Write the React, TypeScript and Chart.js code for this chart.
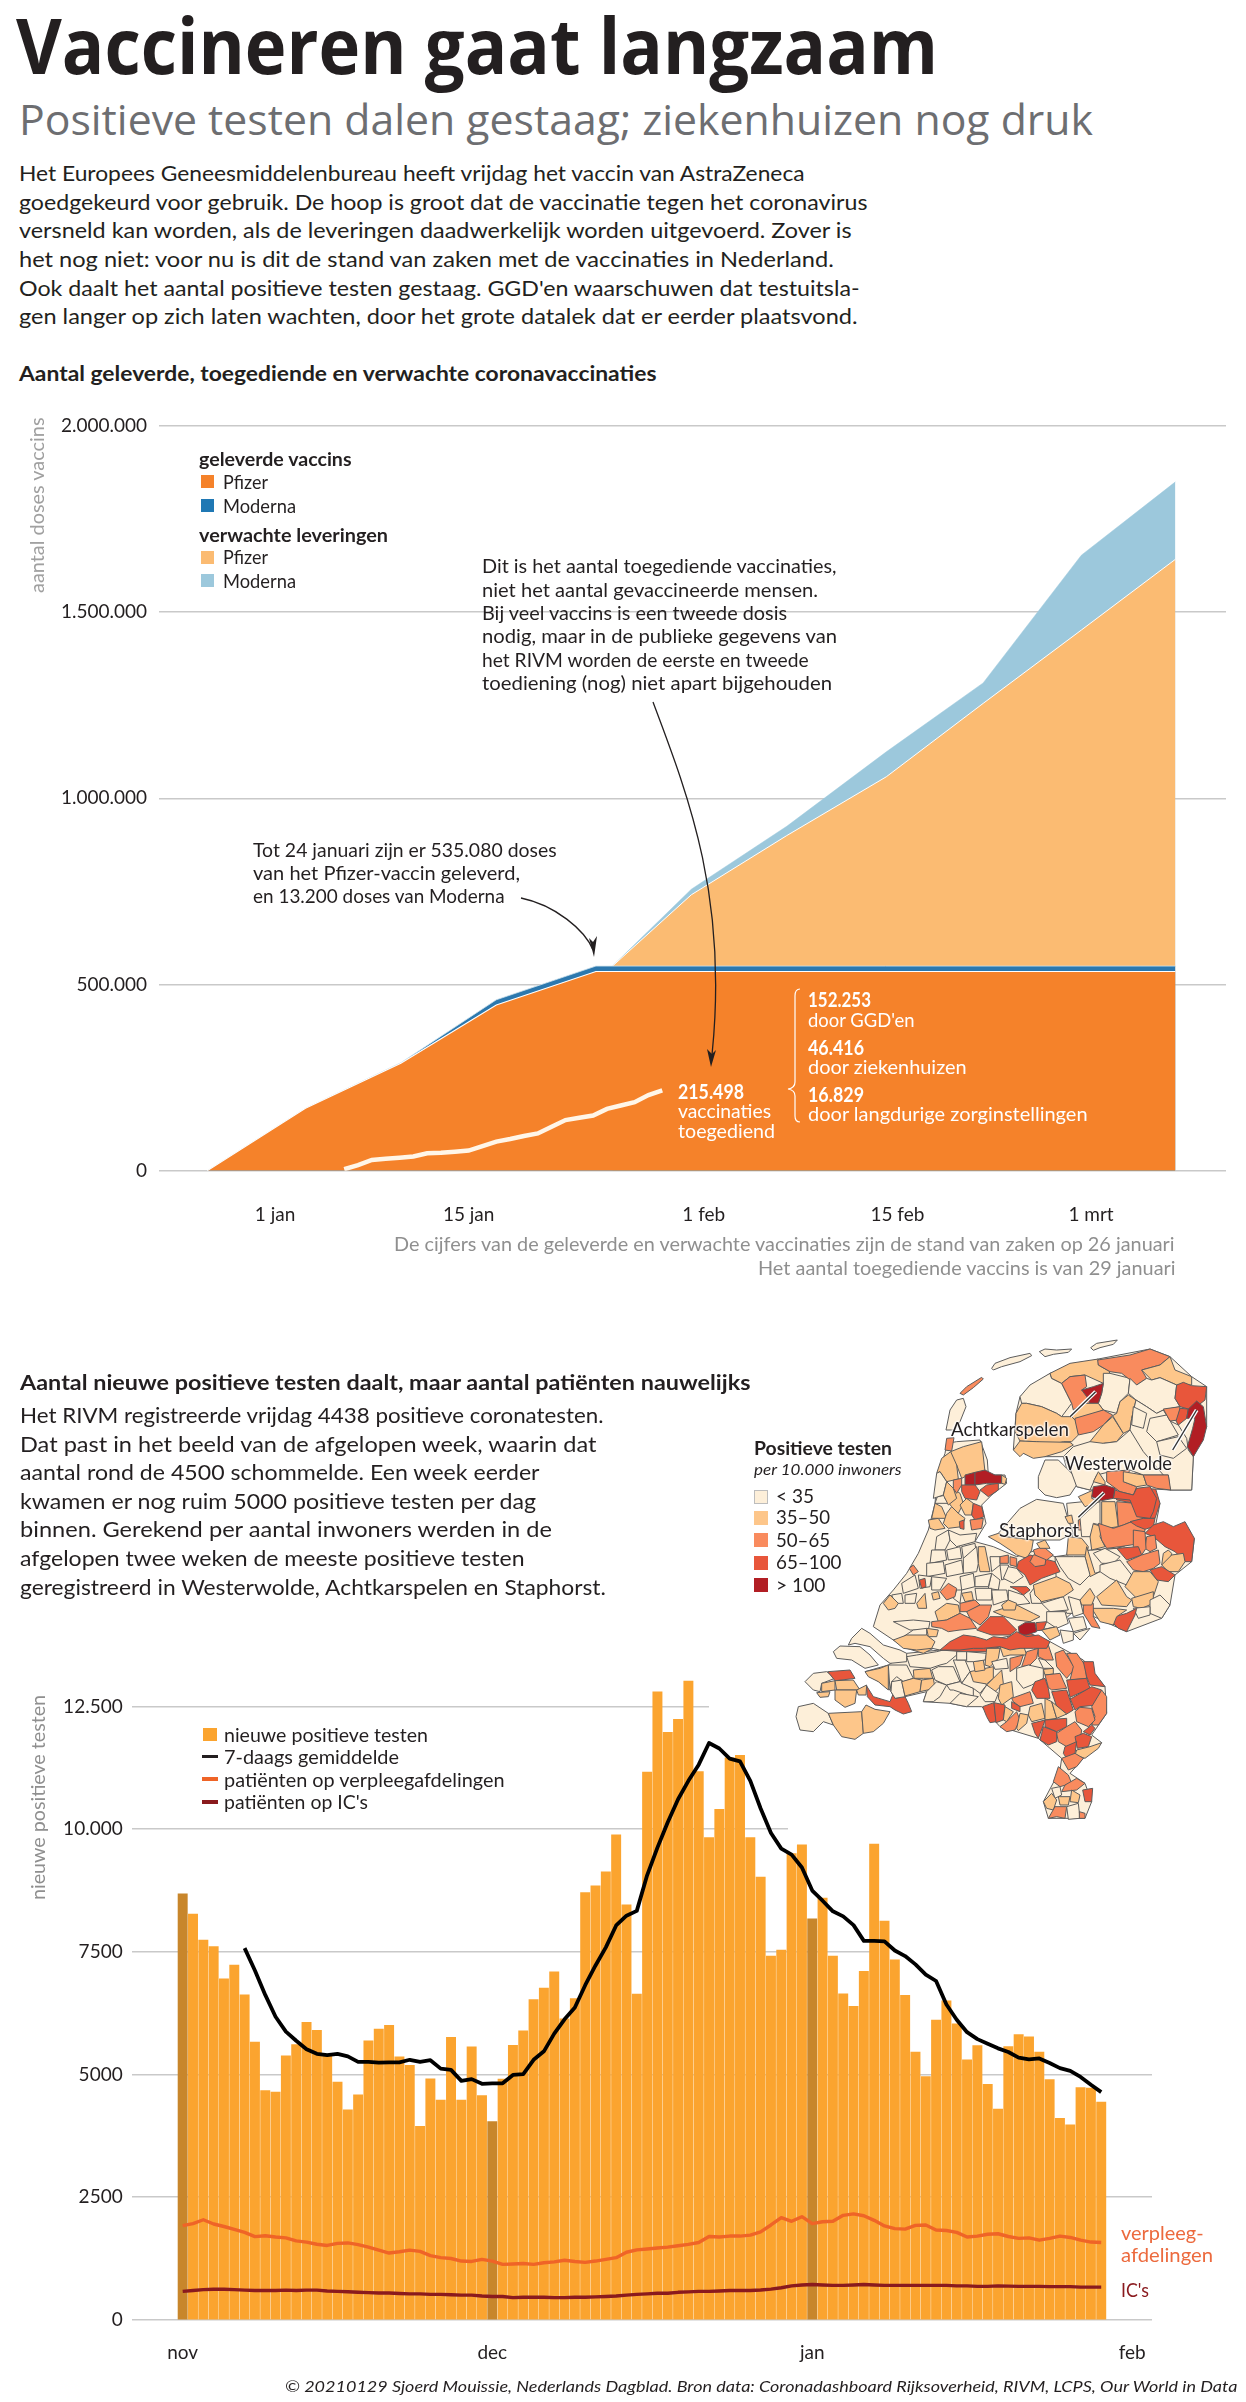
import React, { useEffect, useRef } from "react";
import { Chart, registerables } from "chart.js";
Chart.register(...registerables);

// ---------- chart 1 data ----------
const vaccDoseTickValues = [0, 500000, 1000000, 1500000, 2000000];
const vaccDoseTickLabels = ["0", "500.000", "1.000.000", "1.500.000", "2.000.000"];
const vaccDayTickValues = [0, 14, 31, 45, 59];
const vaccDayTickLabels = ["1 jan", "15 jan", "1 feb", "15 feb", "1 mrt"];
const deliveredDays = [-4.9, 2.2, 9.1, 16, 23.2, 65.1];
const deliveredPfizer = [0, 167600, 288500, 445000, 535080, 535080];
const deliveredTotal = [0, 167600, 290000, 459000, 549500, 549500];
const expectedDays = [24.4, 30.1, 37, 44.2, 51.2, 58.3, 65.1];
const expectedPfizerTop = [549500, 741000, 900000, 1058000, 1255000, 1452000, 1642000];
const expectedModernaTop = [549500, 756000, 925000, 1125000, 1310000, 1653000, 1850000];
const givenStartDay = 5;
const givenDoses = [4000, 15000, 29000, 32000, 35000, 38000, 47000, 48000, 51000, 54000, 66000, 78000, 85000, 93000, 100000, 118000, 136000, 142000, 148000, 166000, 175000, 184000, 203000, 215498];

// ---------- chart 2 data ----------
const posTickValues = [0, 2500, 5000, 7500, 10000, 12500];
const posTickLabels = ["0", "2500", "5000", "7500", "10.000", "12.500"];
const monthTickValues = [0, 30, 61, 92];
const monthTickLabels = ["nov", "dec", "jan", "feb"];
const firstOfMonth = [0, 30, 61];
const positiveTests = [8683, 8271, 7739, 7610, 6950, 7233, 6624, 5663, 4676, 4642, 5380, 5611, 6066, 5903, 5405, 4848, 4281, 4590, 5689, 5929, 6006, 5363, 5191, 3947, 4916, 4479, 5757, 4479, 5568, 4573, 4041, 4908, 5594, 5894, 6529, 6761, 7096, 6135, 6547, 8709, 8846, 9129, 9884, 8460, 6641, 11163, 12800, 11973, 12236, 13016, 11174, 9830, 10403, 11456, 11503, 9830, 9022, 7415, 7537, 9501, 9680, 8176, 8599, 7415, 6644, 6391, 7105, 9699, 8129, 7340, 6616, 5460, 4962, 6109, 6503, 6034, 5300, 5592, 4802, 4295, 5573, 5817, 5770, 5460, 4896, 4107, 3975, 4737, 4727, 4438];
const avgStartIndex = 6;
const sevenDayAvg = [7576, 7121, 6624, 6178, 5877, 5689, 5517, 5423, 5397, 5423, 5371, 5260, 5260, 5242, 5251, 5251, 5302, 5260, 5294, 5122, 5097, 4873, 4908, 4813, 4822, 4822, 4993, 5011, 5302, 5474, 5834, 6126, 6366, 6821, 7224, 7593, 8039, 8237, 8336, 9060, 9624, 10140, 10610, 10986, 11315, 11757, 11644, 11437, 11381, 10986, 10422, 9924, 9605, 9483, 9219, 8749, 8543, 8327, 8223, 8045, 7725, 7725, 7716, 7528, 7415, 7246, 7039, 6907, 6428, 6118, 5864, 5723, 5629, 5535, 5460, 5347, 5310, 5329, 5235, 5131, 5075, 4953, 4793, 4643];
const wardPatients = [1922, 1965, 2042, 1956, 1905, 1845, 1785, 1699, 1716, 1690, 1673, 1613, 1587, 1544, 1519, 1562, 1570, 1536, 1484, 1424, 1364, 1390, 1424, 1399, 1313, 1270, 1253, 1201, 1193, 1236, 1201, 1133, 1141, 1150, 1133, 1167, 1184, 1218, 1193, 1175, 1201, 1236, 1270, 1381, 1429, 1447, 1466, 1485, 1513, 1541, 1579, 1701, 1692, 1710, 1710, 1729, 1795, 1936, 2086, 2011, 2105, 1964, 2002, 2011, 2133, 2161, 2124, 2030, 1917, 1861, 1851, 1927, 1936, 1833, 1823, 1786, 1692, 1710, 1748, 1757, 1701, 1663, 1673, 1626, 1663, 1710, 1682, 1626, 1588, 1579];
const icPatients = [583, 601, 618, 626, 626, 618, 609, 601, 601, 601, 609, 601, 609, 609, 592, 583, 575, 566, 558, 549, 549, 541, 532, 532, 523, 523, 515, 506, 506, 489, 480, 480, 455, 463, 463, 463, 455, 455, 463, 463, 472, 480, 489, 506, 523, 532, 545, 545, 564, 573, 583, 583, 592, 601, 601, 601, 611, 630, 658, 695, 714, 724, 714, 705, 705, 714, 724, 714, 705, 705, 705, 705, 705, 705, 705, 695, 695, 686, 686, 695, 690, 686, 686, 686, 680, 680, 680, 670, 670, 670];
const gridEndPx = [[12500, 709], [10000, 788], [7500, 872]];

const mapClassColors = ["#FDEFD9", "#FDC68A", "#F98B5E", "#E8563B", "#B21E24"];
const southOrigin = [790, 1610];
const southRegions = [
  [0,350,130,450,120,520,120,780,95,880,150,945,230,950,310,905,375,935,398,880,445,840,490,885,520,905,575,885,625,775,625,760,575,810,480,815,445,745,385,630,350,575,290,530,290,480,280,400,275,410,245,345,260,315,265,300,240,225,185,295,165],
  [0,185,85,215,55,240,70,280,105,330,120,350,130,350,155,300,160,280,145,240,110,195,100,175,105],
  [0,130,125,150,108,210,110,240,135,265,165,225,175,185,150,140,145],
  [1,310,90,360,70,430,78,430,115,400,130,350,115],
  [0,435,78,490,72,470,100,445,120,435,115],
  [0,350,140,380,135,440,125,500,110,500,135,470,160,450,165,420,175,360,170],
  [3,450,120,490,90,530,75,565,90,590,100,640,100,680,80,720,70,780,95,740,110,670,115,630,110,590,125,520,125],
  [0,45,215,70,190,110,185,135,205,95,220,90,245,70,240],
  [3,113,185,180,180,195,205,155,210,135,212],
  [1,95,220,135,212,135,240,95,245],
  [1,135,212,190,210,210,240,140,240],
  [1,135,240,200,240,195,280,165,292,135,270],
  [1,80,248,120,245,115,260,90,262],
  [1,200,240,230,225,228,255,205,255],
  [3,230,228,250,260,300,275,310,250,315,265,345,260,355,280,365,305,340,312,315,300,300,290,255,285,232,260],
  [0,18,320,25,290,70,280,115,310,130,345,100,335,70,365,30,360],
  [1,115,310,215,305,220,370,195,388,155,380,130,345],
  [1,215,305,228,285,255,298,300,305,280,340,250,365,220,370],
  [1,225,185,270,175,295,165,295,240,265,215,235,200],
  [0,295,165,350,165,370,205,340,215,320,200,305,215,300,240],
  [0,305,215,335,210,345,260,315,265,303,245],
  [1,335,215,370,205,395,210,390,245,345,258],
  [1,370,180,420,175,428,205,400,205,372,205],
  [1,395,210,430,205,435,235,390,245],
  [0,400,275,410,245,440,215,470,225,450,260,430,275],
  [0,425,180,445,170,490,170,510,215,470,225,435,210],
  [0,470,225,510,215,550,235,550,260,490,240,480,240],
  [0,480,280,510,250,565,260,530,290,505,285],
  [0,490,150,525,150,540,185,515,220,505,190],
  [0,515,220,540,185,555,190,590,225,570,250,550,235],
  [1,540,185,610,170,610,205,590,222,550,215],
  [1,550,155,580,150,585,180,555,185],
  [0,500,125,530,125,530,150,500,150],
  [0,530,125,590,130,585,150,550,155,530,155],
  [1,590,115,630,115,625,145,600,170,585,165],
  [0,605,155,650,145,655,175,615,178],
  [1,590,225,610,205,635,180,640,220,615,245,600,260],
  [0,570,255,590,225,625,250,615,275,585,275],
  [1,630,225,665,215,670,260,635,285,625,265],
  [1,630,110,700,105,710,135,660,135,640,140],
  [2,660,145,700,135,690,165,660,185],
  [2,710,125,745,115,740,145,720,165,695,170],
  [2,745,110,775,105,790,150,765,150,745,140],
  [0,745,145,765,150,790,175,760,175],
  [0,680,175,715,165,760,175,760,205,725,225,700,235,680,210],
  [1,760,178,790,175,790,192,765,195],
  [3,735,215,765,205,775,235,780,265,740,265,725,240],
  [2,765,195,810,190,830,235,785,240,775,232],
  [2,795,130,820,120,855,175,830,205,800,170],
  [2,830,130,860,130,885,165,890,205,840,210,850,170],
  [3,880,155,910,155,915,190,945,230,900,225,890,200],
  [3,830,210,890,205,900,235,840,262],
  [3,845,265,905,230,935,240,925,285,870,290,855,300,840,265],
  [3,785,245,830,240,850,300,830,312,800,290],
  [2,665,265,720,245,730,280,690,290,670,275],
  [3,665,275,690,290,690,305,665,295],
  [2,905,290,935,240,950,260,950,310,925,345,905,345,915,320],
  [2,855,305,870,292,905,295,915,330,895,350,860,335],
  [1,720,290,755,280,765,325,725,335,715,315],
  [1,765,265,785,275,800,325,765,330],
  [1,785,275,830,312,800,325],
  [3,578,290,612,278,618,335,600,338,590,320],
  [3,612,278,645,285,640,330,618,338],
  [1,645,290,670,305,650,335,640,330],
  [2,630,350,650,335,680,305,690,330,675,360,650,365],
  [1,690,310,715,315,710,340,685,362,680,355],
  [3,725,340,765,330,760,345,745,385,735,370],
  [3,760,350,800,365,800,395,775,405,750,390,755,370],
  [3,765,330,830,325,830,350,800,365,765,350],
  [2,830,350,855,335,875,360,870,395,830,410,805,395,800,370],
  [3,880,365,905,345,915,355,900,375],
  [3,855,380,880,370,905,380,895,410,862,415],
  [3,825,410,860,395,855,430,830,445,820,430],
  [1,860,420,900,410,935,398,925,415,885,445,855,435],
  [2,815,445,855,430,880,445,860,470,835,480],
  [2,805,470,835,495,845,520,810,530,790,515],
  [2,825,525,860,505,885,520,860,540,815,545],
  [0,785,535,810,530,815,555,795,565],
  [1,760,575,785,550,800,570,790,600,770,595],
  [1,805,560,840,560,835,585,810,585],
  [1,845,540,870,555,865,578,840,575],
  [3,878,540,908,535,905,575,885,575],
  [2,775,625,795,590,830,590,825,625,800,620],
  [0,830,590,865,580,870,625,835,628],
  [2,868,605,885,610,885,625,868,625],
];
const midOrigin = [860, 1440];
const midRegions = [
  [0,232,105,255,40,260,10,290,5,360,0,382,60,385,105,435,105,440,130,395,165,365,195,378,250,345,305,400,320,470,350,530,330,585,350,720,400,680,520,640,515,590,560,240,630,100,600,40,560,60,495,100,450,140,400,175,340,205,270,225,190],
  [0,585,350,620,345,690,330,770,325,880,290,1003,295,995,365,945,405,930,495,905,535,800,575,680,520,620,520,590,440],
  [0,620,190,720,180,830,145,900,190,880,290,770,325,690,330,620,345,640,280,625,240],
  [0,230,290,265,270,270,300,255,330,225,330],
  [0,215,330,255,330,260,360,210,370],
  [0,260,330,300,320,305,355,265,360],
  [0,305,320,345,310,350,350,310,355],
  [0,350,320,355,370,350,395,310,400,310,355],
  [0,200,370,250,365,255,400,200,410],
  [0,255,375,305,360,310,400,260,410],
  [0,390,350,420,350,420,375,395,395],
  [0,420,375,445,375,450,410,425,420],
  [0,395,400,420,420,415,450,385,445],
  [0,445,380,470,385,490,410,460,430,430,415],
  [0,175,405,215,410,210,440,180,445],
  [0,215,410,260,415,240,450,215,450],
  [0,300,410,340,400,345,440,305,450],
  [0,345,410,395,400,385,440,345,440],
  [0,125,430,165,405,175,445,130,460],
  [0,95,465,125,460,130,490,105,490],
  [0,135,465,170,460,165,490,135,490],
  [0,290,450,305,450,300,490,280,475],
  [0,345,445,395,445,395,480,350,480],
  [0,395,450,440,450,445,480,400,495],
  [0,445,450,490,465,510,490,470,495,445,480],
  [0,510,460,525,440,545,490,515,490],
  [0,545,490,610,470,625,510,570,515],
  [0,625,470,660,480,670,520,640,530],
  [0,560,515,615,515,625,550,590,565,560,545],
  [0,625,535,670,530,680,565,640,575],
  [0,600,570,640,575,640,600,610,610],
  [0,640,580,690,565,660,600],
  [0,100,545,160,540,210,545,205,570,150,570],
  [0,160,570,200,565,200,590,130,590],
  [0,232,170,260,165,265,190,225,190],
  [1,205,240,235,235,255,265,225,270,210,265],
  [1,225,190,245,200,260,235,235,235,215,235],
  [1,260,220,275,200,295,220,315,235,305,260,265,265,250,250],
  [1,270,140,300,160,310,190,295,220,275,200,255,175],
  [1,300,195,320,175,340,190,335,225,315,225],
  [3,340,190,365,200,372,230,345,240,335,225],
  [2,330,240,370,235,365,265,335,270],
  [3,298,245,312,240,312,268,300,265],
  [2,148,385,160,375,175,395,160,405],
  [3,178,420,195,415,198,440,185,445],
  [1,70,490,90,465,115,490,105,505,85,510],
  [1,170,490,195,460,200,505,175,505],
  [2,240,455,265,430,290,445,285,470,260,480],
  [1,215,460,235,455,240,475,220,480],
  [1,305,460,335,455,340,480,315,485],
  [1,225,515,260,490,295,495,300,520,260,540,235,545],
  [2,300,490,345,480,360,495,325,515,300,515],
  [2,320,515,360,495,395,495,385,530,360,555,330,535],
  [2,215,545,260,540,300,520,330,535,350,565,300,570,265,575,245,565,215,560],
  [3,350,570,390,530,430,530,470,570,450,585,395,585],
  [1,400,515,430,505,470,495,520,520,540,530,510,545,470,540,435,530],
  [1,425,495,445,480,470,490,465,510,430,510],
  [4,475,560,495,548,525,548,530,575,500,585,478,585],
  [3,528,548,560,545,550,570,530,572],
  [1,545,570,590,560,600,585,570,600],
  [3,240,630,270,605,310,585,345,590,380,600,400,590,440,595,470,575,500,590,535,585,570,605,560,625,520,625,480,625,450,630,420,620,370,625,340,625,300,630],
  [1,100,600,140,585,200,585,225,605,215,625,170,630,130,625],
  [1,200,565,235,570,230,590,205,590],
  [1,385,290,415,280,440,290,520,300,515,330,500,355,470,345,450,330,420,310],
  [0,415,280,480,205,530,178,610,190,625,240,640,280,600,300,520,300,440,290],
  [1,615,230,635,225,640,250,625,250],
  [2,655,240,670,235,670,270,655,270],
  [1,620,345,625,290,665,295,685,320,680,345],
  [1,695,250,725,260,720,290,735,320,695,330,690,290],
  [0,660,235,720,180,720,255,700,250,690,290,665,290],
  [1,725,185,765,185,775,260,740,265,725,255],
  [2,770,185,825,190,855,235,815,245,790,255,775,260],
  [3,830,145,885,140,900,190,885,235,855,235,825,190,770,180,765,165],
  [2,715,250,760,265,790,255,815,245,850,250,855,270,845,310,780,320,740,325,725,300],
  [3,810,245,850,235,885,235,880,260,855,268,830,258],
  [3,880,255,910,245,940,260,975,245,1003,295,995,365,975,365,945,335,915,320,880,290,855,280],
  [2,860,290,885,285,890,325,870,335,855,325],
  [2,820,270,855,275,858,325,845,345,820,320],
  [3,770,325,835,320,845,345,800,360],
  [2,800,365,845,345,895,330,900,370,880,385,850,395,820,390],
  [1,910,340,925,330,935,340,925,385,905,375],
  [1,905,375,935,345,970,340,975,365,955,395,925,395],
  [3,870,390,905,380,945,405,925,425,890,420],
  [0,700,340,735,325,780,350,760,370,725,370],
  [0,720,375,780,360,815,405,800,435,750,415,720,395],
  [1,680,320,705,400,720,395,690,410,675,350],
  [0,585,350,640,350,675,350,690,405,660,435,625,415,600,380],
  [1,820,395,870,395,895,425,880,470,830,475,795,440],
  [1,815,475,880,455,880,490,845,505,820,500],
  [0,870,480,900,465,930,495,905,535,870,520],
  [0,820,505,870,500,870,525,835,535],
  [3,765,530,800,520,830,505,825,525,800,575,775,565,760,550],
  [1,695,505,760,505,800,510,770,530,760,555,720,545],
  [1,710,470,770,420,800,470,815,480,800,500,725,495],
  [2,670,495,700,490,700,530,720,565,695,560,670,520],
  [1,660,480,690,445,705,470,695,495,665,495],
  [1,520,435,590,410,630,430,640,450,610,470,545,485,525,465],
  [3,475,365,510,345,585,365,600,395,545,415,510,435,495,405,470,385],
  [2,510,365,520,345,560,340,555,375,525,380],
  [2,520,330,550,320,580,345,560,360,525,345],
  [1,530,310,555,300,570,325,540,325],
  [2,420,350,445,345,445,370,420,370],
  [2,450,350,470,355,470,380,450,375],
  [1,355,320,375,320,390,395,360,395,355,370],
  [3,450,440,500,440,510,450,490,465,470,450],
  [0,265,270,300,285,350,280,345,305,290,320,270,300],
];
const northOrigin = [930, 1335];
const northRegions = [
  [0,270,185,360,115,505,72,660,42,720,65,785,125,830,155,830,275,790,365,785,465,720,465,640,460,480,465,440,455,410,400,400,365,345,365,280,355,250,345,258,235],
  [0,48,285,60,225,80,195,100,190,108,215,90,260,75,285],
  [2,90,175,110,155,155,127,160,132,130,158,100,180],
  [0,185,100,195,85,240,68,300,55,305,62,270,80,215,95,190,105],
  [0,328,50,345,42,380,45,425,42,415,52,370,58,345,65],
  [0,482,38,500,25,562,15,550,28,510,38,490,46],
  [0,270,185,300,150,360,115,365,130,395,145,410,175,425,205,395,245,380,235,335,215,290,205,275,205],
  [1,360,115,420,85,505,72,505,90,540,110,520,145,465,120,420,125,395,145,365,130],
  [2,395,145,420,125,465,120,470,155,455,165,495,175,490,205,460,205,430,225,425,205,410,175],
  [0,520,115,540,115,600,130,595,175,570,200,560,235,520,225,505,205,515,175,520,145],
  [4,455,165,490,155,520,145,515,175,505,205,480,205,470,185],
  [1,460,205,505,205,520,225,475,245,435,255,425,245],
  [2,435,250,520,225,548,240,520,270,490,290,445,300,435,270],
  [1,258,235,275,205,290,205,335,215,380,235,395,245,425,245,435,255,445,300,425,320,400,320,360,330,320,320,270,318,255,290],
  [1,250,345,270,318,320,320,420,322,430,330,395,350,345,365,310,370,280,355,270,365],
  [1,480,320,520,270,548,245,580,295,560,320,520,325,490,335],
  [1,560,235,570,200,595,180,618,195,605,250,600,285,580,295,548,242],
  [2,503,75,600,60,660,42,720,65,690,90,635,105,650,130,620,150,575,115,540,110,505,90],
  [1,635,105,690,90,720,65,735,105,785,125,785,150,740,150,690,128,665,135],
  [0,600,130,620,150,650,130,665,135,690,128,740,150,735,190,750,215,700,225,680,235,650,215,618,195,595,175],
  [0,600,285,605,250,618,195,650,215,680,235,700,225,720,258,745,270,770,310,775,345,790,365,785,465,720,465,715,420,640,420,600,405,560,405,580,330],
  [0,610,215,650,235,640,280,605,270],
  [0,660,250,710,240,745,300,680,320,650,290],
  [0,680,320,745,305,770,340,730,370,690,360],
  [3,740,150,760,142,785,152,830,155,825,195,800,215,775,222,750,215,735,190],
  [2,700,222,750,215,745,255,720,258],
  [3,750,220,775,222,770,250,745,270,738,258],
  [4,775,222,800,198,820,215,830,275,820,315,790,365,772,335,788,280,795,250,770,250],
  [0,325,425,345,375,385,375,410,400,430,420,440,450,420,480,380,488,345,480,325,460],
  [0,430,335,480,320,520,325,560,320,600,285,640,350,700,420,640,420,600,405,540,410,500,420,480,465,440,455,420,400,400,365],
  [2,530,410,600,405,580,440,620,455,610,480,570,470,530,440],
  [1,580,410,640,420,650,450,620,455,580,440],
  [2,640,420,715,420,722,465,680,460,650,450],
  [1,490,440,505,410,525,440,525,450],
  [1,445,485,490,465,485,490,510,500,465,515],
  [3,555,465,570,470,610,480,620,460,660,455,680,490,670,530,660,550,620,545,600,495,550,490],
  [4,490,455,525,450,555,460,550,490,515,497,485,485],
  [2,45,345,50,310,72,308,65,348],
  [1,62,350,100,335,155,320,165,410,115,420,95,430,80,390,60,370],
  [1,20,415,35,370,62,350,80,390,85,432,50,440,30,410],
  [0,20,415,30,410,50,440,40,480,10,490],
  [1,50,440,70,460,80,490,55,510,40,480],
  [2,70,435,95,430,95,450,80,475,70,460],
  [4,105,420,135,412,135,450,105,450],
  [4,135,412,165,405,195,420,215,420,215,445,170,445,135,450],
  [1,215,420,230,430,225,448,215,445],
  [3,95,450,135,450,150,470,140,495,105,490,95,470],
  [3,150,465,170,450,205,445,205,465,175,485],
];
const mapLeaders = [
  [northOrigin, [420, 245, 497, 170]],
  [northOrigin, [728, 345, 800, 225]],
  [midOrigin, [655, 232, 732, 158]],
];

// ---------- texts ----------
const bodyLines = [
  ["Het Europees Geneesmiddelenbureau heeft vrijdag het vaccin van AstraZeneca", 788, 173],
  ["goedgekeurd voor gebruik. De hoop is groot dat de vaccinatie tegen het coronavirus", 850, 202],
  ["versneld kan worden, als de leveringen daadwerkelijk worden uitgevoerd. Zover is", 834, 230],
  ["het nog niet: voor nu is dit de stand van zaken met de vaccinaties in Nederland.", 817, 259],
  ["Ook daalt het aantal positieve testen gestaag. GGD'en waarschuwen dat testuitsla-", 841, 288],
  ["gen langer op zich laten wachten, door het grote datalek dat er eerder plaatsvond.", 841, 316],
];
const noteDelivered = [
  ["Tot 24 januari zijn er 535.080 doses", 304, 849],
  ["van het Pfizer-vaccin geleverd,", 267, 872],
  ["en 13.200 doses van Moderna", 252, 895],
];
const noteGiven = [
  ["Dit is het aantal toegediende vaccinaties,", 355, 565],
  ["niet het aantal gevaccineerde mensen.", 336, 589],
  ["Bij veel vaccins is een tweede dosis", 306, 612],
  ["nodig, maar in de publieke gegevens van", 356, 635],
  ["het RIVM worden de eerste en tweede", 327, 659],
  ["toediening (nog) niet apart bijgehouden", 350, 682],
];
const para2 = [
  ["Het RIVM registreerde vrijdag 4438 positieve coronatesten.", 584, 1415],
  ["Dat past in het beeld van de afgelopen week, waarin dat", 578, 1443.7],
  ["aantal rond de 4500 schommelde. Een week eerder", 520, 1472.3],
  ["kwamen er nog ruim 5000 positieve testen per dag", 517, 1501],
  ["binnen. Gerekend per aantal inwoners werden in de", 533, 1529.3],
  ["afgelopen twee weken de meeste positieve testen", 505, 1558],
  ["geregistreerd in Westerwolde, Achtkarspelen en Staphorst.", 587, 1586.7],
];
const mapLegend = [
  ["< 35", 38, 1496, 1490],
  ["35–50", 54, 1517, 1511],
  ["50–65", 54, 1540, 1533],
  ["65–100", 65.5, 1562, 1556],
  ["> 100", 49.5, 1585, 1578],
];

const LATO = "Lato, sans-serif";
const OPEN = "'Open Sans', sans-serif";
const measureCtx = typeof document !== "undefined" ? document.createElement("canvas").getContext("2d") : null;

function T({ x, y, w, s = 20, b = false, i = false, c = "#231f20", f = LATO, rot = false, halo = false, children }: any) {
  const weight = b ? 700 : 400;
  const style = i ? "italic" : "normal";
  let k = 1;
  if (measureCtx && w) {
    measureCtx.font = `${style} ${weight} ${s}px ${f}`;
    const natural = measureCtx.measureText(String(children)).width;
    if (natural > 0) k = w / natural;
  }
  return (
    <div
      style={{
        position: "absolute",
        left: x,
        top: y,
        height: 0,
        lineHeight: 0,
        whiteSpace: "nowrap",
        fontFamily: f,
        fontSize: s,
        fontWeight: weight,
        fontStyle: style,
        color: c,
        transformOrigin: "0 0",
        transform: rot ? `rotate(-90deg) scaleX(${k})` : `scaleX(${k})`,
        textShadow: halo ? "0 0 3px #fff,0 0 3px #fff,0 0 3px #fff,0 0 2px #fff,0 0 2px #fff" : undefined,
      }}
    >
      {children}
    </div>
  );
}

function Box({ x, y, w, h, c, stroke }: any) {
  return <div style={{ position: "absolute", left: x, top: y, width: w, height: h, background: c, boxSizing: "border-box", border: stroke ? `1px solid ${stroke}` : undefined }} />;
}

function useChart(factory: (c: HTMLCanvasElement) => Chart) {
  const ref = useRef<HTMLCanvasElement | null>(null);
  useEffect(() => {
    const chart = factory(ref.current as HTMLCanvasElement);
    return () => chart.destroy();
  }, []);
  return ref;
}

const fixedTicks = (values: number[]) => (scale: any) => {
  scale.ticks = values.map((value) => ({ value }));
};
const labelFrom = (values: number[], labels: string[]) => (v: any) => {
  const i = values.indexOf(Number(v));
  return i >= 0 ? labels[i] : "";
};
const tickFont = { family: "Lato", size: 19 };
const xy = (xs: number[], ys: number[]) => xs.map((x, i) => ({ x, y: ys[i] }));

function makeVaccineChart(canvas: HTMLCanvasElement) {
  const area = (data: any, color: string, border = "#ffffff", width = 1.1) => ({
    data, backgroundColor: color, borderColor: border, borderWidth: width, pointRadius: 0, fill: "origin", tension: 0,
  });
  return new Chart(canvas, {
    type: "line",
    data: {
      datasets: [
        {
          data: givenDoses.map((y, i) => ({ x: givenStartDay + i, y })),
          borderColor: "#FFF6E8", borderWidth: 4.5, pointRadius: 0, fill: false, tension: 0,
        },
        area(xy(deliveredDays, deliveredPfizer), "#F5822A"),
        area(xy(deliveredDays, deliveredTotal), "#2C78AE", "#CFE3EE", 0.8),
        area(xy(expectedDays, expectedPfizerTop), "#FBBB72", "#ffffff", 1),
        area(xy(expectedDays, expectedModernaTop), "#9CC8DC", "#9CC8DC", 0.5),
      ] as any,
    },
    options: {
      responsive: false,
      animation: false,
      layout: { padding: { top: 26, right: 20, left: 0, bottom: 0 } },
      plugins: { legend: { display: false }, tooltip: { enabled: false } },
      scales: {
        x: {
          type: "linear", min: -8.39, max: 68.76,
          grid: { display: false }, border: { display: false },
          afterBuildTicks: fixedTicks(vaccDayTickValues),
          afterFit: (s: any) => { s.height = 59.3; },
          ticks: { padding: 25, color: "#231f20", font: tickFont, autoSkip: false, maxRotation: 0, callback: labelFrom(vaccDayTickValues, vaccDayTickLabels) },
        },
        y: {
          min: 0, max: 2000000,
          grid: { color: "#C9C9C9", lineWidth: 1.6, drawTicks: false }, border: { display: false },
          afterBuildTicks: fixedTicks(vaccDoseTickValues),
          afterFit: (s: any) => { s.width = 159; },
          ticks: { padding: 12, color: "#231f20", font: { family: "Lato", size: 19 }, callback: labelFrom(vaccDoseTickValues, vaccDoseTickLabels) },
        },
      },
    } as any,
  });
}

const gridMask = {
  id: "gridMask",
  beforeDatasetsDraw(chart: any) {
    const { ctx, scales } = chart;
    ctx.save();
    ctx.fillStyle = "#fff";
    gridEndPx.forEach(([v, px]) => {
      ctx.fillRect(px, scales.y.getPixelForValue(v) - 3, chart.width - px, 6);
    });
    ctx.restore();
  },
};

function makeTestsChart(canvas: HTMLCanvasElement) {
  const lineSet = (data: any, color: string, width: number, order: number) => ({
    type: "line", data, borderColor: color, borderWidth: width, pointRadius: 0, fill: false, tension: 0, order,
    borderJoinStyle: "round",
  });
  return new Chart(canvas, {
    type: "bar",
    data: {
      datasets: [
        lineSet(icPatients.map((y, x) => ({ x, y })), "#8A1A1E", 3.4, 1),
        lineSet(wardPatients.map((y, x) => ({ x, y })), "#EF6427", 3.4, 2),
        lineSet(sevenDayAvg.map((y, i) => ({ x: avgStartIndex + i, y })), "#000000", 3.8, 0),
        {
          type: "bar",
          data: positiveTests.map((y, x) => ({ x, y })),
          backgroundColor: positiveTests.map((_, i) => (firstOfMonth.includes(i) ? "#C8862B" : "#FBA42F")),
          barThickness: 9.3,
          order: 10,
        },
      ] as any,
    },
    plugins: [gridMask],
    options: {
      responsive: false,
      animation: false,
      layout: { padding: { top: 27, right: 94, left: 0, bottom: 0 } },
      plugins: { legend: { display: false }, tooltip: { enabled: false } },
      scales: {
        x: {
          type: "linear", offset: false, min: -4.94, max: 93.92,
          grid: { display: false }, border: { display: false },
          afterBuildTicks: fixedTicks(monthTickValues),
          afterFit: (s: any) => { s.height = 60; },
          ticks: { padding: 13, color: "#231f20", font: tickFont, autoSkip: false, maxRotation: 0, callback: labelFrom(monthTickValues, monthTickLabels) },
        },
        y: {
          min: 0, max: 13101,
          grid: { color: "#C9C9C9", lineWidth: 1.6, drawTicks: false }, border: { display: false },
          afterBuildTicks: fixedTicks(posTickValues),
          afterFit: (s: any) => { s.width = 131.7; },
          ticks: { padding: 9, color: "#231f20", font: tickFont, callback: labelFrom(posTickValues, posTickLabels) },
        },
      },
    } as any,
  });
}

const choropleth = {
  id: "choropleth",
  beforeDatasetsDraw(chart: any) {
    const { ctx } = chart;
    ctx.save();
    chart.data.datasets.forEach((ds: any, i: number) => {
      if (!ds.region) return;
      const pts = chart.getDatasetMeta(i).data;
      ctx.beginPath();
      pts.forEach((p: any, j: number) => (j ? ctx.lineTo(p.x, p.y) : ctx.moveTo(p.x, p.y)));
      ctx.closePath();
      ctx.fillStyle = ds.fillColor;
      ctx.fill();
      ctx.lineWidth = 1;
      ctx.strokeStyle = "#5c5c5c";
      ctx.lineJoin = "round";
      ctx.stroke();
    });
    ctx.restore();
  },
};

function makeMapChart(canvas: HTMLCanvasElement) {
  const regions: any[] = [];
  const add = (list: number[][], o: number[]) =>
    list.forEach(([cls, ...c]) => {
      const data = [];
      for (let i = 0; i + 1 < c.length; i += 2) data.push({ x: o[0] + c[i] / 3, y: o[1] + c[i + 1] / 3 });
      regions.push({ data, region: true, fillColor: mapClassColors[cls], pointRadius: 0, showLine: false });
    });
  add(southRegions, southOrigin);
  add(midRegions, midOrigin);
  add(northRegions, northOrigin);
  const leaders: any[] = [];
  mapLeaders.forEach(([o, c]: any) => {
    const data = [{ x: o[0] + c[0] / 3, y: o[1] + c[1] / 3 }, { x: o[0] + c[2] / 3, y: o[1] + c[3] / 3 }];
    leaders.push({ data, showLine: true, pointRadius: 0, borderColor: "#333333", borderWidth: 1.4, order: 0 });
    leaders.push({ data, showLine: true, pointRadius: 0, borderColor: "#ffffff", borderWidth: 4, order: 1 });
  });
  return new Chart(canvas, {
    type: "scatter",
    data: { datasets: [...regions, ...leaders] },
    plugins: [choropleth],
    options: {
      responsive: false,
      animation: false,
      layout: { padding: 0 },
      plugins: { legend: { display: false }, tooltip: { enabled: false } },
      scales: {
        x: { type: "linear", min: 780, max: 1220, display: false },
        y: { type: "linear", min: 1335, max: 1830, reverse: true, display: false },
      },
    } as any,
  });
}

export default function App() {
  const vaccineRef = useChart(makeVaccineChart);
  const testsRef = useChart(makeTestsChart);
  const mapRef = useChart(makeMapChart);
  return (
    <div style={{ position: "absolute", left: 0, top: 0, width: 1246, height: 2402, background: "#fff", overflow: "hidden" }}>
      <canvas ref={testsRef} width={1246} height={730} style={{ position: "absolute", left: 0, top: 1650, display: "block" }} />
      <canvas ref={vaccineRef} width={1246} height={830} style={{ position: "absolute", left: 0, top: 400, display: "block" }} />
      <canvas ref={mapRef} width={440} height={495} style={{ position: "absolute", left: 780, top: 1335, display: "block" }} />

      <T x={16} y={44.5} w={922} s={77} b f={OPEN}>Vaccineren gaat langzaam</T>
      <T x={19} y={119} w={1074} s={42} c="#6d6e71" f={OPEN}>Positieve testen dalen gestaag; ziekenhuizen nog druk</T>
      {bodyLines.map(([t, w, y]: any) => <T key={t} x={19} y={y} w={w} s={22}>{t}</T>)}
      <T x={19} y={373} w={638} s={21} b>Aantal geleverde, toegediende en verwachte coronavaccinaties</T>

      <T x={37} y={593} w={176} s={19} c="#a0a0a0" rot>aantal doses vaccins</T>
      <T x={199} y={459} w={153} s={19} b>geleverde vaccins</T>
      <Box x={201} y={475} w={13} h={13} c="#F5822A" />
      <T x={222.6} y={481.7} w={45} s={19}>Pfizer</T>
      <Box x={201} y={499} w={13} h={13} c="#1F78B4" />
      <T x={222.6} y={506} w={73} s={19}>Moderna</T>
      <T x={199} y={535} w={189} s={19} b>verwachte leveringen</T>
      <Box x={201} y={551} w={13} h={13} c="#FBBB72" />
      <T x={222.6} y={557} w={45} s={19}>Pfizer</T>
      <Box x={201} y={574} w={13} h={13} c="#9CC8DC" />
      <T x={222.6} y={581} w={73} s={19}>Moderna</T>

      {noteGiven.map(([t, w, y]: any) => <T key={t} x={482} y={y} w={w} s={20}>{t}</T>)}
      {noteDelivered.map(([t, w, y]: any) => <T key={t} x={253} y={y} w={w} s={20}>{t}</T>)}

      <svg width={1246} height={2402} style={{ position: "absolute", left: 0, top: 0, pointerEvents: "none" }}>
        <path d="M521 898 C555 905 585 930 593 950" fill="none" stroke="#231f20" strokeWidth={1.3} />
        <path d="M589 938 L594 957 L597 936 L593 942 Z" fill="#231f20" />
        <path d="M653 702 C690 800 728 900 712 1055" fill="none" stroke="#231f20" strokeWidth={1.3} />
        <path d="M707 1049 L711 1067 L716 1050 L712 1054 Z" fill="#231f20" />
        <path d="M800 989 Q795 989 795 996 L795 1082 Q795 1088 788 1089 Q795 1090 795 1096 L795 1116 Q795 1122 800 1122" fill="none" stroke="#ffffff" strokeWidth={1.2} />
      </svg>

      <T x={678} y={1091} w={66} s={20} b c="#fff">215.498</T>
      <T x={678} y={1110} w={93} s={20} c="#fff">vaccinaties</T>
      <T x={678} y={1130} w={97} s={20} c="#fff">toegediend</T>
      <T x={807.6} y={999} w={63} s={20} b c="#fff">152.253</T>
      <T x={807.6} y={1019} w={107} s={20} c="#fff">door GGD'en</T>
      <T x={807.6} y={1046.7} w={56} s={20} b c="#fff">46.416</T>
      <T x={807.6} y={1066} w={159} s={20} c="#fff">door ziekenhuizen</T>
      <T x={807.6} y={1094} w={56} s={20} b c="#fff">16.829</T>
      <T x={807.6} y={1113} w={280} s={20} c="#fff">door langdurige zorginstellingen</T>

      <T x={393.5} y={1243} w={782.5} s={20} c="#8f8f8f">De cijfers van de geleverde en verwachte vaccinaties zijn de stand van zaken op 26 januari</T>
      <T x={757.5} y={1267} w={418.5} s={20} c="#8f8f8f">Het aantal toegediende vaccins is van 29 januari</T>

      <T x={19.6} y={1381.7} w={731} s={21} b>Aantal nieuwe positieve testen daalt, maar aantal patiënten nauwelijks</T>
      {para2.map(([t, w, y]: any) => <T key={t} x={20} y={y} w={w} s={22}>{t}</T>)}

      <T x={754} y={1448} w={138} s={19} b>Positieve testen</T>
      <T x={754} y={1469} w={148} s={15} i>per 10.000 inwoners</T>
      {mapLegend.map(([t, w, y, by]: any, i) => (
        <div key={t}>
          <Box x={754} y={by} w={14} h={13.5} c={mapClassColors[i]} stroke={i === 0 ? "#bdbdbd" : undefined} />
          <T x={776} y={y} w={w} s={19}>{t}</T>
        </div>
      ))}
      <T x={951} y={1428} w={118} s={20} halo>Achtkarspelen</T>
      <T x={1065} y={1461.7} w={107} s={20} halo>Westerwolde</T>
      <T x={999} y={1529} w={80} s={20} halo>Staphorst</T>

      <T x={37} y={1900} w={205} s={20} c="#8f8f8f" rot>nieuwe positieve testen</T>
      <Box x={203} y={1727.5} w={14} h={13.5} c="#FBA42F" />
      <T x={224} y={1734.7} w={204} s={19}>nieuwe positieve testen</T>
      <Box x={202} y={1754.5} w={16} h={3.5} c="#231f20" />
      <T x={224} y={1756.6} w={175} s={19}>7-daags gemiddelde</T>
      <Box x={202} y={1777} w={16} h={3.5} c="#EF6427" />
      <T x={224} y={1779.7} w={281} s={19}>patiënten op verpleegafdelingen</T>
      <Box x={202} y={1800} w={16} h={3.5} c="#8A1A1E" />
      <T x={224} y={1802} w={144} s={19}>patiënten op IC's</T>

      <T x={1121} y={2233} w={82.6} s={19} c="#EC6A3E">verpleeg-</T>
      <T x={1121} y={2254.6} w={92} s={19} c="#EC6A3E">afdelingen</T>
      <T x={1121} y={2289.7} w={28} s={19} c="#8A1A1E">IC's</T>
      <T x={285} y={2386} w={953} s={16} i>© 20210129 Sjoerd Mouissie, Nederlands Dagblad. Bron data: Coronadashboard Rijksoverheid, RIVM, LCPS, Our World in Data</T>
    </div>
  );
}
